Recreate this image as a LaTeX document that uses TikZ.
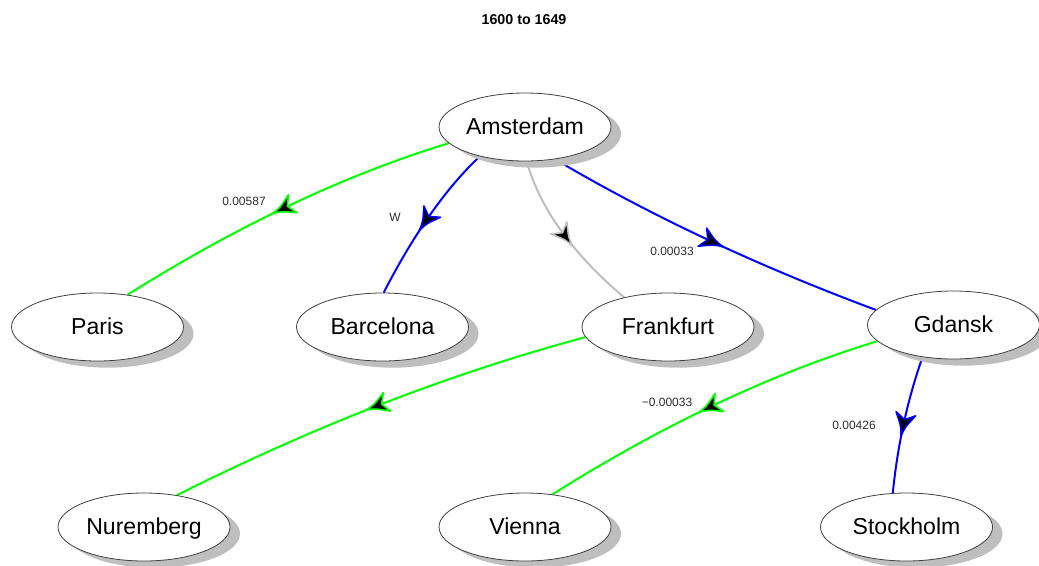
\documentclass[tikz,border=0pt]{standalone}
\usepackage{fontspec}
\setmainfont{Liberation Sans}
\usetikzlibrary{shapes.geometric,decorations.markings,calc,shadows}
\pgfdeclarelayer{background}
\pgfsetlayers{background,main}
\definecolor{edgegreen}{RGB}{0,255,0}
\definecolor{edgeblue}{RGB}{0,0,255}
\definecolor{edgegray}{RGB}{190,190,190}
\definecolor{shadowgray}{RGB}{190,190,190}
\definecolor{labelgray}{RGB}{45,45,45}
\newcommand{\qedge}[4]{\draw[#1] (#2) .. controls ($(#2)!0.6667!(#4)$) and ($(#3)!0.6667!(#4)$) .. (#3);}
\newcommand{\midhead}{\filldraw[fill=black, line width=1.2pt, line join=round]
  (9pt,0pt) .. controls (2pt,1.5pt) .. (-8pt,7.5pt) -- (-3.5pt,0pt) -- (-8pt,-7.5pt) .. controls (2pt,-1.5pt) .. (9pt,0pt) -- cycle;}
\begin{document}
\begin{tikzpicture}[x=0.75pt,y=-0.75pt,
  city/.style={ellipse, draw=black!75, line width=0.6pt, fill=white,
    minimum width=129pt, minimum height=51pt, inner sep=0pt,
    font=\fontsize{17.3}{20}\selectfont, text height=12.4pt, text depth=1pt,
    drop shadow={shadow xshift=7.5pt, shadow yshift=-5pt, fill=shadowgray, opacity=1}},
  lbl/.style={font=\fontsize{9}{11}\selectfont, text=labelgray, inner sep=0pt},
  link/.style={line width=1.5pt, postaction={decorate},
    decoration={markings, mark=at position #1 with {\midhead}}},
  link/.default=0.5
]
\useasboundingbox (0,0) rectangle (1039,565);

\node[font=\bfseries\fontsize{10.7}{13}\selectfont] (title) at (524,20) {1600 to 1649};

\node[city] (ams) at (525,127) {Amsterdam};
\node[city] (par) at (97.5,327) {Paris};
\node[city] (bar) at (382.5,327) {Barcelona};
\node[city] (fra) at (668,327) {Frankfurt};
\node[city] (gda) at (953.5,325) {Gdansk};
\node[city] (nur) at (144,527) {Nuremberg};
\node[city] (vie) at (525,527) {Vienna};
\node[city] (sto) at (906.5,527) {Stockholm};

\coordinate (qap) at (293.5,190.5);
\coordinate (qab) at (429.5,203.5);
\coordinate (qaf) at (546,231);
\coordinate (qag) at (697.5,243.5);
\coordinate (qfn) at (383,391.5);
\coordinate (qgv) at (719,389.5);
\coordinate (qgs) at (900,421);

\begin{pgfonlayer}{background}
\qedge{link, edgegreen}{ams.192}{par.47}{qap}
\qedge{link, edgeblue}{ams.213}{bar.88}{qab}
\qedge{link, edgegray}{ams.273}{fra.146}{qaf}
\qedge{link, edgeblue}{ams.313}{gda.169}{qag}
\qedge{link, edgegreen}{fra.187}{nur.44}{qfn}
\qedge{link, edgegreen}{gda.192}{vie.50}{qgv}
\qedge{link, edgeblue}{gda.226}{sto.112}{qgs}
\end{pgfonlayer}

\node[lbl] (l1) at (244,201) {0.00587};
\node[lbl] (l2) at (395,217) {W};
\node[lbl] (l3) at (672,251) {0.00033};
\node[lbl] (l4) at (667,402) {−0.00033};
\node[lbl] (l5) at (854,425) {0.00426};
\end{tikzpicture}
\end{document}
